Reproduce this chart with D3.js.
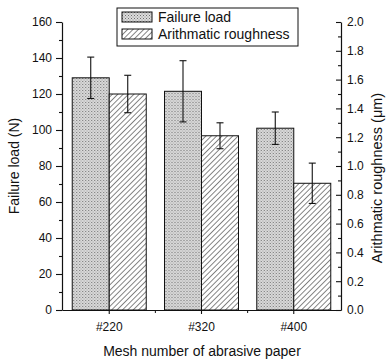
<!DOCTYPE html>
<html>
<head>
<meta charset="utf-8">
<script src="https://cdn.jsdelivr.net/npm/d3@7"></script>
<style>
  body { margin: 0; background: #fff; }
  svg { display: block; font-family: "Liberation Sans", Arial, sans-serif; }
</style>
</head>
<body>
<svg id="chart" width="386" height="361"></svg>
<script>
const categories = ['#220', '#320', '#400']
const failureLoad = [129, 121.5, 101]
const failureErr = [11.5, 17, 9]
const roughness = [1.5, 1.21, 0.88]
const roughnessErr = [0.13, 0.09, 0.14]
const loadTicks = [0, 20, 40, 60, 80, 100, 120, 140, 160]
const roughTicks = [0, 0.2, 0.4, 0.6, 0.8, 1.0, 1.2, 1.4, 1.6, 1.8, 2.0]
const seriesNames = ['Failure load', 'Arithmatic roughness']

const plotLeft = 62
const plotRight = 341
const plotTop = 22
const plotBottom = 310

const svg = d3.select('#chart')

// fill patterns
const defs = svg.append('defs')
const dots = defs.append('pattern')
    .attr('id', 'dots')
    .attr('patternUnits', 'userSpaceOnUse')
    .attr('width', 3)
    .attr('height', 3)
dots.append('rect').attr('width', 3).attr('height', 3).attr('fill', '#dcdcdc')
dots.append('rect').attr('x', 0).attr('y', 0).attr('width', 1).attr('height', 1).attr('fill', '#6e6e6e')
dots.append('rect').attr('x', 1.5).attr('y', 1.5).attr('width', 1).attr('height', 1).attr('fill', '#8a8a8a')

const hatch = defs.append('pattern')
    .attr('id', 'hatch')
    .attr('patternUnits', 'userSpaceOnUse')
    .attr('width', 3.8)
    .attr('height', 3.8)
    .attr('patternTransform', 'rotate(45)')
hatch.append('rect').attr('width', 3.8).attr('height', 3.8).attr('fill', '#fff')
hatch.append('line')
    .attr('x1', 0).attr('y1', 0).attr('x2', 0).attr('y2', 3.8)
    .attr('stroke', '#222').attr('stroke-width', 1.1)

const fills = ['url(#dots)', 'url(#hatch)']

const x = d3.scaleBand()
    .domain(categories)
    .range([plotLeft, plotRight])
    .paddingInner(0)
    .paddingOuter(0.012)

const halfW = 37
const yLoad = d3.scaleLinear().domain([0, 160]).range([plotBottom, plotTop])
const yRough = d3.scaleLinear().domain([0, 2]).range([plotBottom, plotTop])

const rows = categories.map((c, i) => ({
    cat: c,
    bars: [
        { s: 0, v: failureLoad[i], e: failureErr[i], y: yLoad },
        { s: 1, v: roughness[i], e: roughnessErr[i], y: yRough }
    ]
}))

const groups = svg.selectAll('g.cat')
    .data(rows)
    .join('g')
    .attr('class', 'cat')
    .attr('transform', d => `translate(${x(d.cat) + x.bandwidth() / 2}, 0)`)

groups.selectAll('rect')
    .data(d => d.bars)
    .join('rect')
    .attr('x', d => d.s === 0 ? -halfW : 0)
    .attr('width', halfW)
    .attr('y', d => d.y(d.v))
    .attr('height', d => plotBottom - d.y(d.v))
    .attr('fill', d => fills[d.s])
    .attr('stroke', '#111')
    .attr('stroke-width', 1)

// error bars
const err = groups.selectAll('g.err')
    .data(d => d.bars)
    .join('g')
    .attr('class', 'err')
    .attr('transform', d => `translate(${d.s === 0 ? -halfW / 2 : halfW / 2}, 0)`)
    .attr('stroke', '#111')
    .attr('stroke-width', 1.1)
err.append('line')
    .attr('x1', 0).attr('x2', 0)
    .attr('y1', d => d.y(d.v + d.e))
    .attr('y2', d => d.y(d.v - d.e))
err.append('line')
    .attr('x1', -3.5).attr('x2', 3.5)
    .attr('y1', d => d.y(d.v + d.e))
    .attr('y2', d => d.y(d.v + d.e))
err.append('line')
    .attr('x1', -3.5).attr('x2', 3.5)
    .attr('y1', d => d.y(d.v - d.e))
    .attr('y2', d => d.y(d.v - d.e))

// axes
const styleAxis = g => {
    g.select('.domain').attr('stroke', '#111').attr('stroke-width', 1.2)
    g.selectAll('.tick line').attr('stroke', '#111').attr('stroke-width', 1.1)
    g.selectAll('.tick text').attr('fill', '#111').style('font-size', '12px')
}

svg.append('g')
    .attr('transform', `translate(${plotLeft}, 0)`)
    .call(d3.axisLeft(yLoad).tickValues(d3.range(10, 160, 20)).tickSize(3).tickFormat('').tickSizeOuter(0))
    .call(g => g.select('.domain').remove())
    .call(styleAxis)

svg.append('g')
    .attr('transform', `translate(${plotLeft}, 0)`)
    .call(d3.axisLeft(yLoad).tickValues(loadTicks).tickSize(6).tickPadding(4).tickSizeOuter(0))
    .call(styleAxis)

svg.append('g')
    .attr('transform', `translate(${plotRight}, 0)`)
    .call(d3.axisRight(yRough).tickValues(d3.range(0.1, 2, 0.2)).tickSize(-3).tickFormat('').tickSizeOuter(0))
    .call(g => g.select('.domain').remove())
    .call(styleAxis)

svg.append('g')
    .attr('transform', `translate(${plotRight}, 0)`)
    .call(d3.axisRight(yRough).tickValues(roughTicks).tickSize(-5).tickPadding(6).tickFormat(d3.format('.1f')).tickSizeOuter(0))
    .call(styleAxis)

svg.append('g')
    .attr('transform', `translate(0, ${plotBottom})`)
    .call(d3.axisBottom(x).tickSize(4).tickPadding(8).tickSizeOuter(0))
    .call(styleAxis)

// minor x ticks between categories
svg.append('g')
    .selectAll('line')
    .data(categories.slice(1))
    .join('line')
    .attr('x1', d => x(d)).attr('x2', d => x(d))
    .attr('y1', plotBottom).attr('y2', plotBottom + 3)
    .attr('stroke', '#111')

// titles
svg.append('text')
    .attr('transform', 'translate(19, 166) rotate(-90)')
    .attr('text-anchor', 'middle')
    .style('font-size', '14px')
    .attr('fill', '#111')
    .text('Failure load (N)')

svg.append('text')
    .attr('transform', 'translate(382, 178) rotate(-90)')
    .attr('text-anchor', 'middle')
    .style('font-size', '14.5px')
    .attr('fill', '#111')
    .text('Arithmatic roughness (μm)')

svg.append('text')
    .attr('x', 202)
    .attr('y', 356)
    .attr('text-anchor', 'middle')
    .style('font-size', '14px')
    .attr('fill', '#111')
    .text('Mesh number of abrasive paper')

// legend
const legend = svg.append('g').attr('transform', 'translate(117, 8)')
legend.append('rect')
    .attr('width', 181).attr('height', 38)
    .attr('fill', '#fff').attr('stroke', '#111').attr('stroke-width', 1)
const item = legend.selectAll('g.item')
    .data(seriesNames)
    .join('g')
    .attr('class', 'item')
    .attr('transform', (d, i) => `translate(5, ${4 + i * 17})`)
item.append('rect')
    .attr('width', 30).attr('height', 10)
    .attr('fill', (d, i) => fills[i])
    .attr('stroke', '#111')
item.append('text')
    .attr('x', 36).attr('y', 10)
    .style('font-size', '14px')
    .attr('fill', '#111')
    .text(d => d)
</script>
</body>
</html>
